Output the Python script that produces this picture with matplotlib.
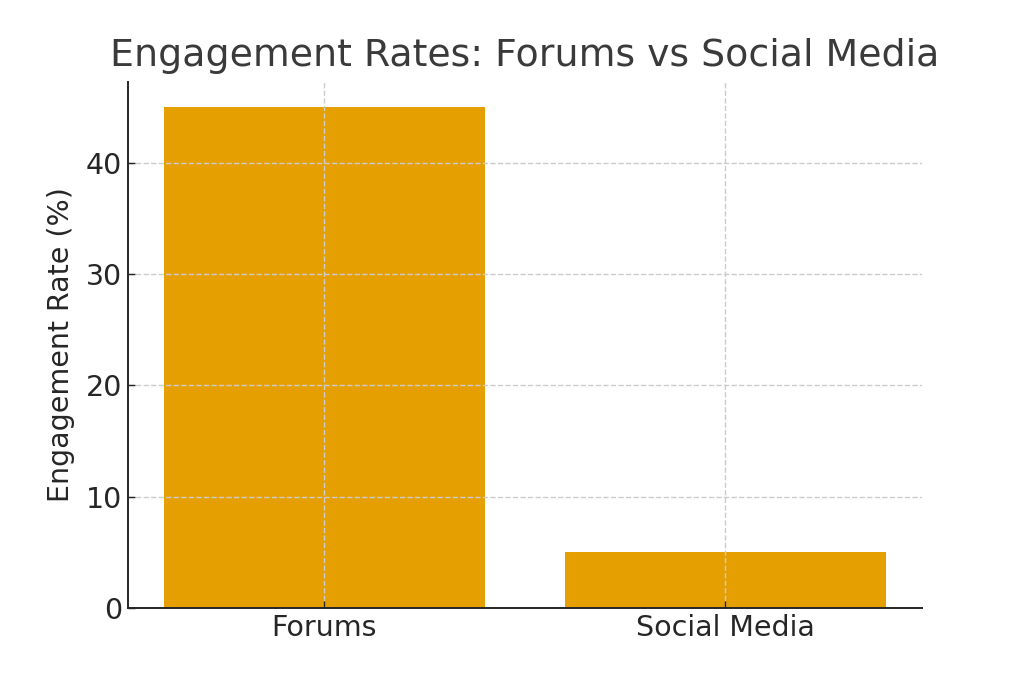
import matplotlib
matplotlib.use("Agg")
import matplotlib.pyplot as plt

# Engagement data
platforms = ["Forums", "Social Media"]
engagement = [45, 5]

title_color = "#3a3a3a"
text_color = "#262626"

plt.rcParams["font.family"] = ["DejaVu Sans"]

fig, ax = plt.subplots(figsize=(8, 5.336), dpi=128)
ax.bar(platforms, engagement, color="#E69F00", width=0.8)

ax.set_title("Engagement Rates: Forums vs Social Media", fontsize=21.3,
             color=title_color, pad=9)
ax.set_ylabel("Engagement Rate (%)", fontsize=16, color=text_color, labelpad=6)
ax.tick_params(axis="both", labelsize=16, colors=text_color,
               direction="in", length=4)
ax.grid(True, linestyle="--", color="#cccccc", linewidth=0.8)

ax.spines["top"].set_visible(False)
ax.spines["right"].set_visible(False)
ax.spines["left"].set_color(text_color)
ax.spines["bottom"].set_color(text_color)
ax.spines["left"].set_linewidth(1.1)
ax.spines["bottom"].set_linewidth(1.1)

plt.savefig("out.png", dpi=128)
